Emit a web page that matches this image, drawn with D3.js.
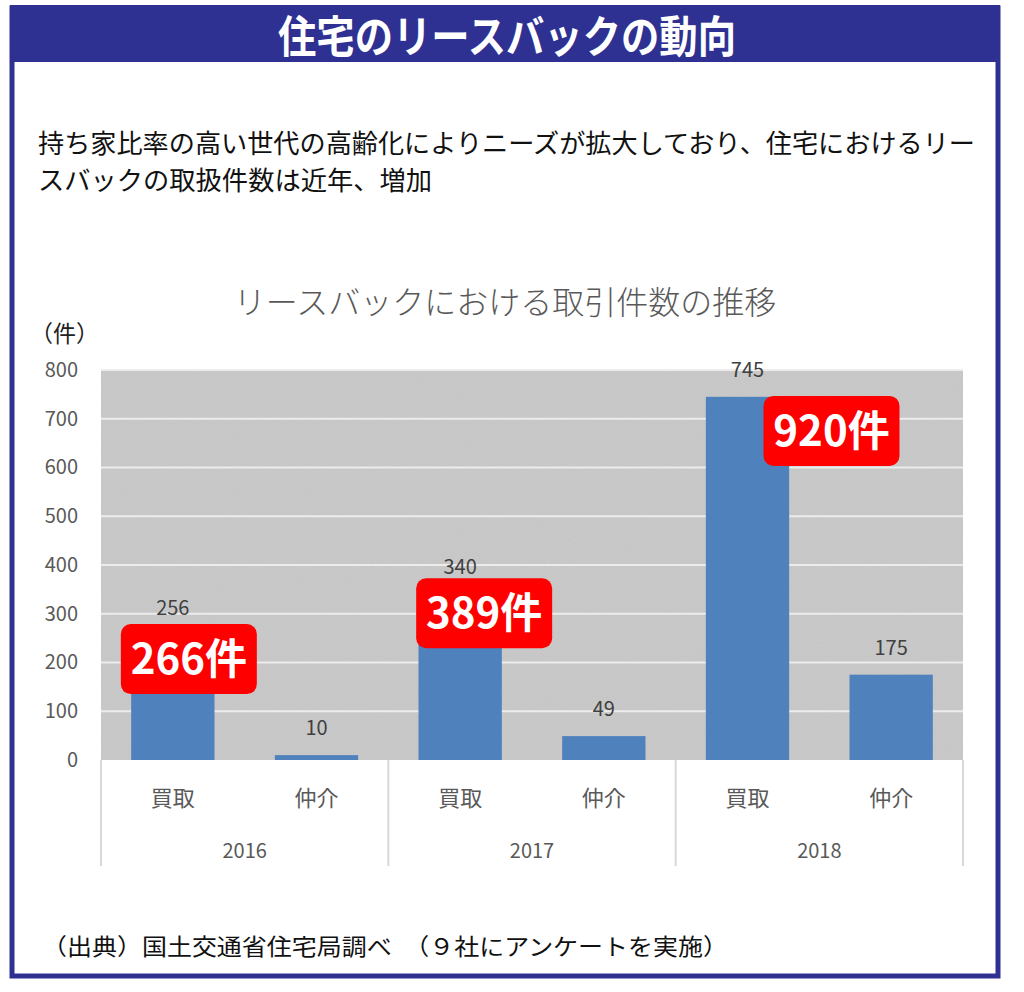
<!DOCTYPE html>
<html>
<head>
<meta charset="utf-8">
<script src="https://cdn.jsdelivr.net/npm/d3@7"></script>
<style>
  body { margin: 0; background: #fff; }
  text { font-family: "Noto Sans CJK JP", "Noto Sans", sans-serif; }
</style>
</head>
<body>
<div id="chart"></div>
<script>
// data
const years = ['2016', '2017', '2018'];
const kinds = ['買取', '仲介'];
const buyValues = [256, 340, 745];
const brokerValues = [10, 49, 175];
const totalLabels = ['266件', '389件', '920件'];
const yTicks = [0, 100, 200, 300, 400, 500, 600, 700, 800];

const W = 1024, H = 992;
const plot = { left: 101, right: 963, top: 370, bottom: 760 };

const svg = d3.select('#chart').append('svg')
  .attr('width', W)
  .attr('height', H);

// frame + title band
svg.append('rect')
  .attr('x', 12).attr('y', 8)
  .attr('width', 986).attr('height', 968)
  .attr('fill', '#fff')
  .attr('stroke', '#2e3192')
  .attr('stroke-width', 5);

svg.append('rect')
  .attr('x', 10).attr('y', 5)
  .attr('width', 990).attr('height', 57)
  .attr('fill', '#2e3192');

svg.append('text')
  .attr('x', 507).attr('y', 53)
  .attr('text-anchor', 'middle')
  .attr('fill', '#fff')
  .attr('font-size', 44)
  .attr('font-weight', 'bold')
  .attr('textLength', 458)
  .attr('lengthAdjust', 'spacingAndGlyphs')
  .text('住宅のリースバックの動向');

// lead text
const lead = ['持ち家比率の高い世代の高齢化によりニーズが拡大しており、住宅におけるリー',
              'スバックの取扱件数は近年、増加'];
const leadWidth = [937, 394];
svg.selectAll('.lead')
  .data(lead)
  .enter().append('text')
  .attr('class', 'lead')
  .attr('x', 38)
  .attr('y', (d, i) => 153 + i * 37)
  .attr('font-size', 26)
  .attr('fill', '#111')
  .attr('textLength', (d, i) => leadWidth[i])
  .attr('lengthAdjust', 'spacingAndGlyphs')
  .text(d => d);

// chart title
svg.append('text')
  .attr('x', 505).attr('y', 314)
  .attr('text-anchor', 'middle')
  .attr('font-size', 32)
  .attr('font-weight', 300)
  .attr('fill', '#595959')
  .text('リースバックにおける取引件数の推移');

svg.append('text')
  .attr('x', 30).attr('y', 342)
  .attr('font-size', 23)
  .attr('fill', '#222')
  .text('（件）');

// scales
const rows = [];
years.forEach((yr, i) => {
  rows.push({ key: yr + kinds[0], year: yr, kind: kinds[0], value: buyValues[i] });
  rows.push({ key: yr + kinds[1], year: yr, kind: kinds[1], value: brokerValues[i] });
});

const x = d3.scaleBand()
  .domain(rows.map(d => d.key))
  .range([plot.left, plot.right])
  .paddingInner(0.42)
  .paddingOuter(0.21);

const xYear = d3.scaleBand()
  .domain(years)
  .range([plot.left, plot.right]);

const y = d3.scaleLinear()
  .domain([0, 800])
  .range([plot.bottom, plot.top]);

// plot background
const defs = svg.append('defs');
const f = defs.append('filter').attr('id', 'grain');
f.append('feTurbulence')
  .attr('type', 'fractalNoise')
  .attr('baseFrequency', 0.9)
  .attr('numOctaves', 1)
  .attr('result', 'noise');
f.append('feColorMatrix')
  .attr('type', 'matrix')
  .attr('values', '0 0 0 0 0.72  0 0 0 0 0.72  0 0 0 0 0.72  0 0 0 0.35 0');
f.append('feComposite').attr('in2', 'SourceGraphic').attr('operator', 'in');

svg.append('rect')
  .attr('x', plot.left).attr('y', plot.top)
  .attr('width', plot.right - plot.left)
  .attr('height', plot.bottom - plot.top)
  .attr('fill', '#c3c3c3');
svg.append('rect')
  .attr('x', plot.left).attr('y', plot.top)
  .attr('width', plot.right - plot.left)
  .attr('height', plot.bottom - plot.top)
  .attr('fill', '#c3c3c3')
  .attr('filter', 'url(#grain)');

// gridlines
svg.append('g')
  .selectAll('line')
  .data(yTicks.filter(d => d > 0))
  .enter().append('line')
  .attr('x1', plot.left).attr('x2', plot.right)
  .attr('y1', d => y(d)).attr('y2', d => y(d))
  .attr('stroke', '#ececec')
  .attr('stroke-width', 2);

// y axis labels
const yAxis = d3.axisLeft(y)
  .tickValues(yTicks)
  .tickSize(0)
  .tickPadding(23);
const ya = svg.append('g')
  .attr('transform', `translate(${plot.left},0)`)
  .call(yAxis);
ya.select('.domain').remove();
ya.selectAll('text')
  .attr('font-size', 20)
  .attr('fill', '#595959')
  .attr('font-family', '"Noto Sans CJK JP", sans-serif');

// bars
svg.append('g')
  .selectAll('rect')
  .data(rows)
  .enter().append('rect')
  .attr('x', d => x(d.key))
  .attr('y', d => y(d.value))
  .attr('width', x.bandwidth())
  .attr('height', d => y(0) - y(d.value))
  .attr('fill', '#4f81bd');

// value labels
svg.append('g')
  .selectAll('text')
  .data(rows)
  .enter().append('text')
  .attr('x', d => x(d.key) + x.bandwidth() / 2)
  .attr('y', d => y(d.value) - 20)
  .attr('text-anchor', 'middle')
  .attr('font-size', 20)
  .attr('fill', '#404040')
  .text(d => d.value);

// category axis
const sep = xYear.domain().map(d => xYear(d)).concat([plot.right]);
svg.append('g')
  .selectAll('line')
  .data(sep)
  .enter().append('line')
  .attr('x1', d => d).attr('x2', d => d)
  .attr('y1', plot.bottom).attr('y2', 866)
  .attr('stroke', '#d9d9d9')
  .attr('stroke-width', 2);

svg.append('g')
  .selectAll('text')
  .data(rows)
  .enter().append('text')
  .attr('x', d => x(d.key) + x.bandwidth() / 2)
  .attr('y', 806)
  .attr('text-anchor', 'middle')
  .attr('font-size', 22)
  .attr('fill', '#595959')
  .text(d => d.kind);

svg.append('g')
  .selectAll('text')
  .data(years)
  .enter().append('text')
  .attr('x', d => xYear(d) + xYear.bandwidth() / 2)
  .attr('y', 858)
  .attr('text-anchor', 'middle')
  .attr('font-size', 20)
  .attr('fill', '#595959')
  .text(d => d);

// total callouts, placed over each year's 買取 bar
const calloutAt = [207, 301, 675];   // y position in data units
const calloutShift = [16, 24, 84];   // px right of the bar centre
const callouts = svg.append('g')
  .selectAll('g')
  .data(years)
  .enter().append('g')
  .attr('transform', (d, i) => {
    const cx = x(d + kinds[0]) + x.bandwidth() / 2 + calloutShift[i];
    return `translate(${cx},${y(calloutAt[i])})`;
  });
callouts.append('rect')
  .attr('x', -68).attr('y', -35)
  .attr('width', 136).attr('height', 70)
  .attr('rx', 10)
  .attr('fill', '#ff0000');
callouts.append('text')
  .attr('text-anchor', 'middle')
  .attr('y', 15)
  .attr('font-size', 42)
  .attr('font-weight', 'bold')
  .attr('fill', '#fff')
  .text((d, i) => totalLabels[i]);

// source
svg.append('text')
  .attr('x', 42).attr('y', 955)
  .attr('font-size', 23)
  .attr('fill', '#111')
  .attr('textLength', 686)
  .attr('lengthAdjust', 'spacingAndGlyphs')
  .text('（出典）国土交通省住宅局調べ　（９社にアンケートを実施）');
</script>
</body>
</html>
